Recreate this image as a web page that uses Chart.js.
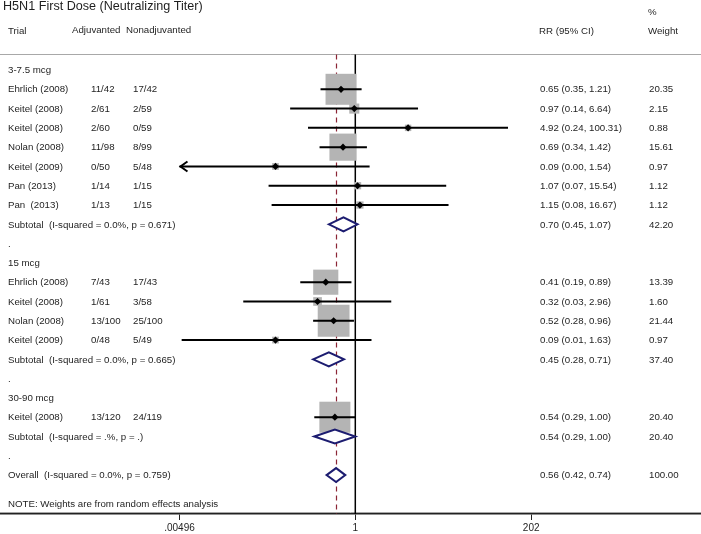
<!DOCTYPE html>
<html>
<head>
<meta charset="utf-8">
<script src="https://cdn.jsdelivr.net/npm/chart.js@4.4.0/dist/chart.umd.min.js"></script>
<style>
  html, body { margin: 0; padding: 0; background: #fff; }
  canvas { display: block; }
</style>
</head>
<body>
<canvas id="forest" width="701" height="534"></canvas>
<script>
// rows of the forest plot, top to bottom
const rowLabels = ['3-7.5 mcg', 'Ehrlich (2008)', 'Keitel (2008)', 'Keitel (2008)', 'Nolan (2008)',
    'Keitel (2009)', 'Pan (2013)', 'Pan  (2013)', 'Subtotal  (I-squared = 0.0%, p = 0.671)', '.',
    '15 mcg', 'Ehrlich (2008)', 'Keitel (2008)', 'Nolan (2008)', 'Keitel (2009)',
    'Subtotal  (I-squared = 0.0%, p = 0.665)', '.',
    '30-90 mcg', 'Keitel (2008)', 'Subtotal  (I-squared = .%, p = .)', '.',
    'Overall  (I-squared = 0.0%, p = 0.759)'];
const rowTypes = ['group', 'study', 'study', 'study', 'study', 'study', 'study', 'study', 'sub', 'blank',
    'group', 'study', 'study', 'study', 'study', 'sub', 'blank',
    'group', 'study', 'sub', 'blank', 'overall'];
const adjuvanted = ['', '11/42', '2/61', '2/60', '11/98', '0/50', '1/14', '1/13', '', '',
    '', '7/43', '1/61', '13/100', '0/48', '', '', '', '13/120', '', '', ''];
const nonadjuvanted = ['', '17/42', '2/59', '0/59', '8/99', '5/48', '1/15', '1/15', '', '',
    '', '17/43', '3/58', '25/100', '5/49', '', '', '', '24/119', '', '', ''];
const rr = [null, 0.65, 0.97, 4.92, 0.69, 0.09, 1.07, 1.15, 0.70, null,
    null, 0.41, 0.32, 0.52, 0.09, 0.45, null, null, 0.54, 0.54, null, 0.56];
const lower = [null, 0.35, 0.14, 0.24, 0.34, 0.004, 0.073, 0.08, 0.45, null,
    null, 0.19, 0.034, 0.28, 0.0053, 0.28, null, null, 0.29, 0.29, null, 0.42];
const upper = [null, 1.21, 6.64, 100.31, 1.42, 1.54, 15.54, 16.67, 1.07, null,
    null, 0.89, 2.96, 0.96, 1.63, 0.71, null, null, 1.00, 1.00, null, 0.74];
const weight = [null, 20.35, 2.15, 0.88, 15.61, 0.97, 1.12, 1.12, 42.20, null,
    null, 13.39, 1.60, 21.44, 0.97, 37.40, null, null, 20.40, 20.40, null, 100.00];
const xTicks = [0.00496, 1, 202];
const xTickLabels = ['.00496', '1', '202'];

const title = 'H5N1 First Dose (Neutralizing Titer)';
const note = 'NOTE: Weights are from random effects analysis';

const FONT = '"Liberation Sans", Arial, sans-serif';
const TEXT = '#1e1e1e';

const studyRows = rowTypes.map((t, i) => t === 'study' ? i : -1).filter(i => i >= 0);
const diamondRows = rowTypes.map((t, i) => (t === 'sub' || t === 'overall') ? i : -1).filter(i => i >= 0);
const overallRow = rowTypes.indexOf('overall');
const plotMin = xTicks[0];

function fmtCI(i) {
    return rr[i].toFixed(2) + ' (' + lower[i].toFixed(2) + ', ' + upper[i].toFixed(2) + ')';
}
function boxRadius(w) {
    // box area proportional to weight; rect pointStyle side = radius * sqrt(2)
    return 6.87 * Math.sqrt(w) / Math.SQRT2;
}

const datasets = [];
datasets.push({
    type: 'scatter',
    order: 3,
    data: studyRows.map(i => ({ x: rr[i], y: i })),
    pointStyle: 'rect',
    pointRadius: studyRows.map(i => boxRadius(weight[i])),
    backgroundColor: '#b4b4b4',
    borderWidth: 0
});
studyRows.forEach(i => {
    datasets.push({
        type: 'line',
        order: 2,
        data: [{ x: Math.max(lower[i], plotMin), y: i }, { x: upper[i], y: i }],
        borderColor: '#000',
        borderWidth: 2,
        pointRadius: 0
    });
});
datasets.push({
    type: 'scatter',
    order: 1,
    data: studyRows.map(i => ({ x: rr[i], y: i })),
    pointStyle: 'rectRot',
    pointRadius: 3.6,
    backgroundColor: '#000',
    borderWidth: 0
});

function hline(ctx, x0, y0, x1, y1) {
    ctx.beginPath();
    ctx.moveTo(x0, y0);
    ctx.lineTo(x1, y1);
    ctx.stroke();
}

const forestPlugin = {
    id: 'forestPlugin',
    beforeDatasetsDraw(chart) {
        const { ctx, chartArea, scales: { x, y } } = chart;
        const topY = Math.round(y.getPixelForValue(-0.83)) + 0.5;
        ctx.save();
        ctx.strokeStyle = '#a8a8a8';
        ctx.lineWidth = 1;
        hline(ctx, 0, topY, chart.width, topY);
        hline(ctx, 0, chartArea.bottom - 1.5, chart.width, chartArea.bottom - 1.5);
        // line of no effect
        const x1 = x.getPixelForValue(1);
        ctx.strokeStyle = '#000';
        ctx.lineWidth = 1.5;
        hline(ctx, x1, topY, x1, chartArea.bottom);
        // overall estimate
        const xo = Math.round(x.getPixelForValue(rr[overallRow])) + 0.5;
        ctx.strokeStyle = '#8b2535';
        ctx.lineWidth = 1.2;
        ctx.setLineDash([5, 4]);
        hline(ctx, xo, topY, xo, chartArea.bottom);
        ctx.restore();
    },
    afterDatasetsDraw(chart) {
        const { ctx, scales: { x, y } } = chart;
        ctx.save();
        // arrows where the CI runs off the plotted range
        ctx.strokeStyle = '#000';
        ctx.lineWidth = 2;
        studyRows.forEach(i => {
            if (lower[i] < plotMin) {
                const tx = x.getPixelForValue(plotMin);
                const ty = y.getPixelForValue(i);
                ctx.beginPath();
                ctx.moveTo(tx + 8, ty - 5);
                ctx.lineTo(tx + 1, ty);
                ctx.lineTo(tx + 8, ty + 5);
                ctx.stroke();
            }
        });
        // pooled diamonds
        ctx.strokeStyle = '#1c1c70';
        ctx.fillStyle = '#fff';
        ctx.lineWidth = 2;
        diamondRows.forEach(i => {
            const cy = y.getPixelForValue(i);
            const xl = x.getPixelForValue(lower[i]);
            const xc = x.getPixelForValue(rr[i]);
            const xr = x.getPixelForValue(upper[i]);
            ctx.beginPath();
            ctx.moveTo(xl, cy);
            ctx.lineTo(xc, cy - 7);
            ctx.lineTo(xr, cy);
            ctx.lineTo(xc, cy + 7);
            ctx.closePath();
            ctx.fill();
            ctx.stroke();
        });
        ctx.restore();
    },
    afterDraw(chart) {
        const { ctx, scales: { y } } = chart;
        ctx.save();
        ctx.fillStyle = TEXT;
        ctx.textBaseline = 'middle';
        ctx.textAlign = 'left';
        ctx.font = '12.6px ' + FONT;
        ctx.fillText(title, 3, 7);
        ctx.font = '9.7px ' + FONT;
        ctx.fillText('Trial', 8, 31);
        ctx.fillText('Adjuvanted', 72, 30.5);
        ctx.fillText('Nonadjuvanted', 126, 30.5);
        ctx.fillText('RR (95% CI)', 539, 31);
        ctx.fillText('%', 648, 12);
        ctx.fillText('Weight', 648, 31);
        rowLabels.forEach((label, i) => {
            const ty = y.getPixelForValue(i) + 0.5;
            ctx.fillText(label, 8, ty);
            if (adjuvanted[i]) ctx.fillText(adjuvanted[i], 91, ty);
            if (nonadjuvanted[i]) ctx.fillText(nonadjuvanted[i], 133, ty);
            if (rr[i] !== null) {
                ctx.fillText(fmtCI(i), 540, ty);
                ctx.fillText(weight[i].toFixed(2), 649, ty);
            }
        });
        ctx.fillText(note, 8, y.getPixelForValue(22.5));
        ctx.restore();
    }
};

const pxPerDecade = 76.3;
const xNull = 355.3;
new Chart(document.getElementById('forest'), {
    data: { datasets: datasets },
    options: {
        responsive: false,
        animation: false,
        layout: { padding: 0, autoPadding: false },
        plugins: { legend: { display: false }, tooltip: { enabled: false } },
        scales: {
            x: {
                type: 'logarithmic',
                min: Math.pow(10, -xNull / pxPerDecade),
                max: Math.pow(10, (701 - xNull) / pxPerDecade),
                afterBuildTicks: axis => { axis.ticks = xTicks.map(v => ({ value: v })); },
                afterFit: axis => { axis.height = 20; },
                ticks: {
                    autoSkip: false,
                    maxRotation: 0,
                    padding: 3,
                    color: TEXT,
                    font: { family: FONT, size: 10, lineHeight: 1.1 },
                    callback: (value, index) => xTickLabels[index]
                },
                grid: { drawOnChartArea: false, drawTicks: true, tickLength: 6, color: '#222' },
                border: { display: true, color: '#222', width: 1.5 }
            },
            y: {
                type: 'linear',
                display: false,
                reverse: true,
                min: -3.629,
                max: 23.017
            }
        }
    },
    plugins: [forestPlugin]
});
</script>
</body>
</html>
